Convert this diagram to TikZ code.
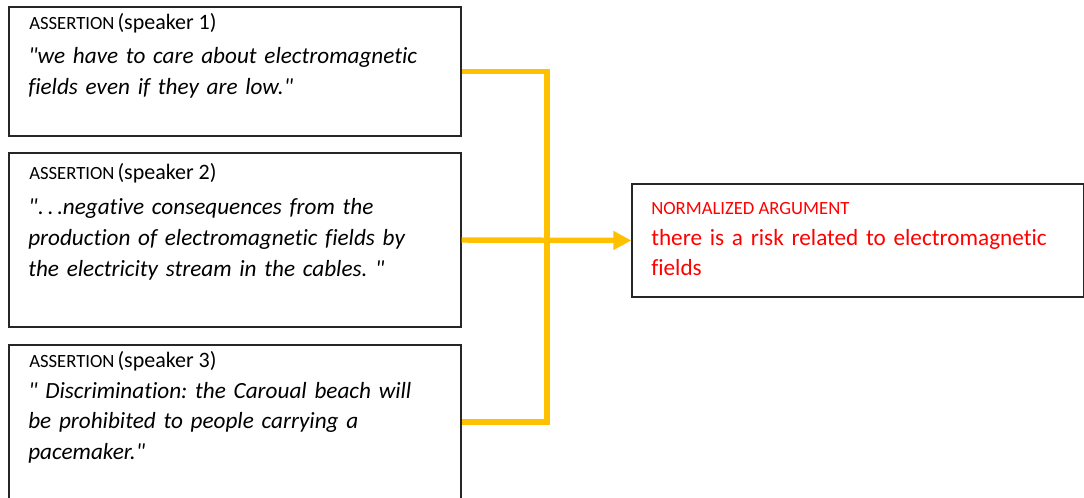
\documentclass[tikz,border=0pt]{standalone}
\usepackage{fontspec}
\setmainfont{Carlito}[Ligatures={TeXOff,NoCommon}]
\frenchspacing
\usetikzlibrary{arrows.meta}
\definecolor{linkgold}{HTML}{FFC000}
\definecolor{normred}{HTML}{FF0000}
\tikzset{
  stmtbox/.style={draw=black!85,line width=0.9pt,minimum width=339pt,
    minimum height=#1,inner sep=0pt},
  headtext/.style={anchor=base west,inner sep=0pt},
  quotetext/.style={anchor=base west,inner sep=0pt,text width=330pt,align=left,
    font=\fontsize{17.4}{23.2}\selectfont\itshape},
  link/.style={linkgold,line width=4.1pt},
}
\newcommand{\hdr}[2]{{\fontsize{14}{16}\selectfont #1} {\fontsize{16.5}{20}\selectfont #2}}
\begin{document}
\begin{tikzpicture}[x=0.75pt,y=-0.75pt]
      \useasboundingbox (0,0) rectangle (1084,498);
      \clip (0,0) rectangle (1084,498);
      % assertions
      \node[stmtbox=96.75pt] (spk1) at (235,71.5) {};
      \node[stmtbox=130.5pt] (spk2) at (235,240) {};
      \node[stmtbox=115.5pt] (spk3) at (235,422) {};
      \node[headtext] (hd1) at (29,30) {\hdr{ASSERTION}{(speaker 1)}};
      \node[quotetext] (qt1) at (28,64) {"we have to care about electromagnetic\\
        fields even if they are low."};
      \node[headtext] (hd2) at (29,180) {\hdr{ASSERTION}{(speaker 2)}};
      \node[quotetext] (qt2) at (28,215) {"{\upshape.\,.\,.}negative consequences from the\\
        production of electromagnetic fields by\\
        the electricity stream in the cables. "};
      \node[headtext] (hd3) at (29,368) {\hdr{ASSERTION}{(speaker 3)}};
      \node[quotetext] (qt3) at (28,398) {"\ Discrimination: the Caroual beach will\\
        be prohibited to people carrying a\\
        pacemaker."};
      % normalized argument
      \node[stmtbox=84.75pt] (norm) at (858,240.5) {};
      \node[headtext,text=normred] (hdn) at (651,215)
        {\fontsize{14}{16}\selectfont NORMALIZED ARGUMENT};
      \node[quotetext,text=normred,font=\fontsize{17.4}{22}\selectfont] (qtn) at (651,246)
        {there is a risk related to electromagnetic\\ fields};
      % links
      \coordinate (join) at (547,240);
      \draw[link] (spk1.east) -- (join |- spk1.east) -- (join |- spk3.east) -- (spk3.east);
      \draw[link,-{Triangle[length=13.5pt,width=13.5pt]}] (spk2.east) -- (norm.west);
\end{tikzpicture}
\end{document}
